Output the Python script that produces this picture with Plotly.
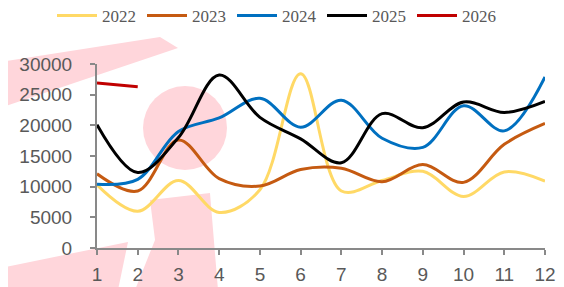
import plotly.graph_objects as go

months = list(range(1, 13))
series_names = ["2022", "2023", "2024", "2025", "2026"]
colors = ["#FFD966", "#C55A11", "#0070C0", "#000000", "#C00000"]

v2022 = [10300, 6000, 11000, 5800, 9500, 28400, 9300, 11000, 12500, 8400, 12400, 10900]
v2023 = [12100, 9300, 17600, 11300, 10100, 12800, 13000, 10800, 13600, 10700, 16900, 20300]
v2024 = [10400, 11200, 19000, 21200, 24400, 19700, 24100, 17900, 16400, 23200, 19100, 27900]
v2025 = [20100, 12300, 18000, 28200, 21300, 17800, 13900, 21900, 19600, 23800, 22100, 23900]
v2026 = [26900, 26300]

values = [v2022, v2023, v2024, v2025, v2026]

fig = go.Figure()
for name, col, vals in zip(series_names, colors, values):
    fig.add_trace(go.Scatter(
        x=months[:len(vals)], y=vals, name=name, mode="lines",
        line=dict(color=col, width=3, shape="spline", smoothing=1.0),
    ))

# page offset from default body margin
OFF = 8
W, H = 564, 287
FW, FH = W - OFF, H - OFF
# plot area in page pixels
L, R, T, B = 97, 545, 64, 248

def px(x, y):
    return ((x - L) / (R - L), (B - y) / (B - T))

def path(pts):
    s = ""
    for i, (x, y) in enumerate(pts):
        a, b = px(x, y)
        s += ("M" if i == 0 else "L") + f"{a:.4f},{b:.4f} "
    return s + "Z"

pink = "#FFD6DB"
shapes = []
shapes.append(dict(type="path", xref="paper", yref="paper", layer="below",
                   path=path([(0, 62), (160, 37), (178, 48), (0, 108)]),
                   fillcolor=pink, line=dict(width=0)))
cx0, cy0 = px(143, 86)
cx1, cy1 = px(227, 170)
shapes.append(dict(type="circle", xref="paper", yref="paper", layer="below",
                   x0=cx0, y0=cy0, x1=cx1, y1=cy1, fillcolor=pink, line=dict(width=0)))
shapes.append(dict(type="path", xref="paper", yref="paper", layer="below",
                   path=path([(150, 200), (210, 193), (218, 290), (135, 290), (155, 240)]),
                   fillcolor=pink, line=dict(width=0)))
shapes.append(dict(type="path", xref="paper", yref="paper", layer="below",
                   path=path([(0, 268), (128, 242), (118, 290), (0, 290)]),
                   fillcolor=pink, line=dict(width=0)))

leg_x, leg_y = px(52, 16)

fig.update_layout(
    width=FW, height=FH,
    margin=dict(l=L - OFF, r=W - R, t=T - OFF, b=H - B, autoexpand=False),
    paper_bgcolor="white", plot_bgcolor="rgba(0,0,0,0)",
    shapes=shapes,
    showlegend=True,
    legend=dict(orientation="h", x=leg_x, xanchor="left",
                y=leg_y, yanchor="middle",
                font=dict(family="Liberation Serif", size=17, color="#595959"),
                entrywidth=35, entrywidthmode="pixels",
                itemwidth=40, tracegroupgap=0, bgcolor="rgba(0,0,0,0)"),
    font=dict(family="Liberation Sans", size=16, color="#595959"),
)
axis_common = dict(showgrid=False, zeroline=False, showline=True, linecolor="#898989",
                   linewidth=2, ticks="outside", tickcolor="#898989", ticklen=5,
                   tickwidth=1.5, automargin=False,
                   tickfont=dict(family="Liberation Sans", size=19, color="#595959"))
fig.update_xaxes(range=[1, 12], tickvals=months, ticklabelstandoff=3, **axis_common)
fig.update_yaxes(range=[0, 30000], dtick=5000, tickformat="d", ticklabelstandoff=14,
                 **axis_common)

fig.write_html("out.html")
